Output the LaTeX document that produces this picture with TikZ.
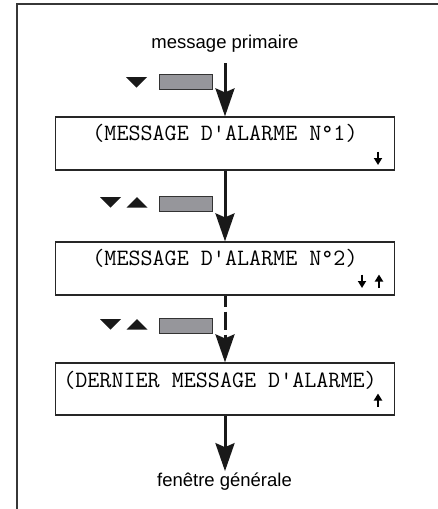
\documentclass[tikz,border=0pt]{standalone}
\usepackage{fontspec}
\setmainfont{Liberation Sans}
\usetikzlibrary{arrows.meta}
\definecolor{keygray}{RGB}{150,150,155}
\definecolor{framec}{RGB}{55,55,55}
\begin{document}
\begin{tikzpicture}[x=1pt,y=-1pt,
  screen/.style={draw=black!85, line width=1.2pt, fill=white, minimum width=339pt, minimum height=53pt, inner sep=0pt},
  monotext/.style={font=\ttfamily\fontsize{23.4}{25}\selectfont, inner sep=0pt},
  sanstext/.style={font=\fontsize{18.5}{20}\selectfont, inner sep=1pt},
  flow/.style={line width=3pt, black!90, -{Stealth[length=28pt,width=19pt,inset=4pt]}},
  keyrect/.style={draw=black!80, line width=1pt, fill=keygray, minimum width=53pt, minimum height=15pt, inner sep=0pt},
  trig/.style={fill=black!90},
  smallarr/.style={line width=2.2pt, black, -{Triangle[length=7pt,width=8pt]}},
  framel/.style={draw=framec, line width=1.8pt}
]
\useasboundingbox (0,0) rectangle (438,509);
% frame (left and top)
\draw[framel] (16.7,509) -- (16.7,3.8) -- (438,3.8);

% labels
\node[sanstext, anchor=base] (t0) at (225,48) {message primaire};
\node[sanstext, anchor=base] (t4) at (224.5,486) {fenêtre générale};

% screens
\node[screen] (b1) at (225,143.5) {};
\node[screen] (b2) at (225,268.5) {};
\node[screen, minimum height=52pt] (b3) at (225,389) {};

\node[monotext] (m1) at (225,133.5) {(MESSAGE D'ALARME N°1)};
\node[monotext] (m2) at (225,258.5) {(MESSAGE D'ALARME N°2)};
\node[monotext] (m3) at (220,380) {(DERNIER MESSAGE D'ALARME)};

% small arrows inside screens
\coordinate (a1t) at (378,151.5); \coordinate (a1b) at (378,165);
\draw[smallarr] (a1t) -- (a1b);
\coordinate (a2t) at (362,274.5); \coordinate (a2b) at (362,288);
\draw[smallarr] (a2t) -- (a2b);
\coordinate (a3t) at (379,274.5); \coordinate (a3b) at (379,288);
\draw[smallarr] (a3b) -- (a3t);
\coordinate (a4t) at (378,393.5); \coordinate (a4b) at (378,407);
\draw[smallarr] (a4b) -- (a4t);

% key rows
\node[keyrect] (k1) at (185.5,81.5) {};
\node[keyrect] (k2) at (185.5,204) {};
\node[keyrect] (k3) at (185.5,325.5) {};
\fill[trig] (126,77) -- (147,77) -- (136.5,87.5) -- cycle;
\fill[trig] (100,197) -- (121,197) -- (110.5,207.5) -- cycle;
\fill[trig] (126.5,207.5) -- (147.5,207.5) -- (137,197) -- cycle;
\fill[trig] (100,319) -- (121,319) -- (110.5,329.5) -- cycle;
\fill[trig] (126.5,329.5) -- (147.5,329.5) -- (137,319) -- cycle;

% flow connectors
\draw[flow, shorten <=10pt] (t0.south -| b1.north) -- (b1.north);
\draw[flow] (b1.south) -- (b2.north);
\draw[flow, dash pattern=on 11pt off 5pt on 18pt off 5pt] (b2.south) -- (b3.north);
\draw[flow] (b3.south) -- (t4.north -| b3.south);
\end{tikzpicture}
\end{document}
